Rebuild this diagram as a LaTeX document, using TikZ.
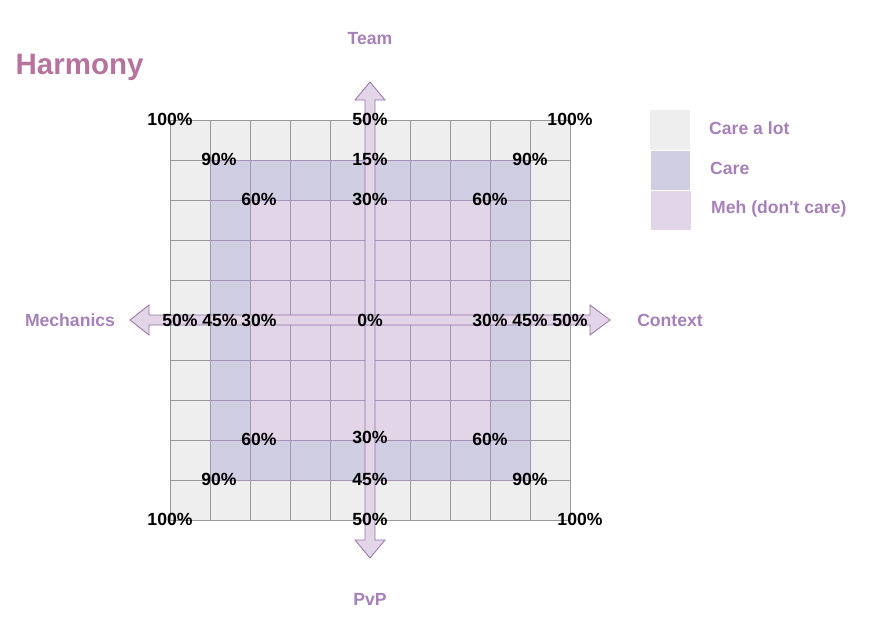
\documentclass[tikz,border=0pt]{standalone}
\usepackage{fontspec}
\setmainfont{Liberation Sans}[Ligatures=TeXOff]
\definecolor{cgray}{HTML}{EEEEEE}
\definecolor{ccare}{HTML}{D0CEE2}
\definecolor{cmeh}{HTML}{E1D5E7}
\definecolor{arrowstroke}{HTML}{9673A6}
\definecolor{labc}{HTML}{A680B8}
\definecolor{titlec}{HTML}{B5739D}
\definecolor{glgray}{HTML}{999999}
\definecolor{glpurple}{HTML}{A393B5}
\begin{document}
\begin{tikzpicture}[x=1pt,y=-1pt,
  pct/.style={font=\fontsize{17.6}{20}\selectfont\bfseries, text=black, inner sep=0pt},
  axlbl/.style={font=\fontsize{17.6}{20}\selectfont\bfseries, text=labc, inner sep=0pt},
  leglbl/.style={font=\fontsize{17.6}{20}\selectfont\bfseries, text=labc, inner sep=0pt, anchor=west},
  gl/.style={draw=glgray, line width=0.8pt},
  glp/.style={draw=glpurple, line width=0.8pt},
  arrowshape/.style={fill=cmeh},
  arrowline/.style={draw=arrowstroke, line width=0.8pt, line join=miter}]
\useasboundingbox (0,0) rectangle (892,642);
% regions
\fill[cgray] (170,120) rectangle (570,520);
\fill[ccare] (210,160) rectangle (530,480);
\fill[cmeh] (250,200) rectangle (490,440);
% grid
\foreach \i in {0,...,10} {
  \draw[gl] ({170+40*\i},120) -- ({170+40*\i},520);
  \draw[gl] (170,{120+40*\i}) -- (570,{120+40*\i});
}
\foreach \i in {1,...,9} {
  \draw[glp] ({170+40*\i},160) -- ({170+40*\i},480);
  \draw[glp] (210,{120+40*\i}) -- (530,{120+40*\i});
}
% arrows
\path[arrowshape] (370,82) -- (385,100) -- (375,100) -- (375,540) -- (385,540) -- (370,558) -- (355,540) -- (365,540) -- (365,100) -- (355,100) -- cycle;
\path[arrowshape] (130,320) -- (149,305) -- (149,315) -- (590,315) -- (590,305) -- (610,320) -- (590,335) -- (590,325) -- (149,325) -- (149,335) -- cycle;
\draw[arrowline] (370,82) -- (385,100) -- (375,100) -- (375,540) -- (385,540) -- (370,558) -- (355,540) -- (365,540) -- (365,100) -- (355,100) -- cycle;
\draw[arrowline] (130,320) -- (149,305) -- (149,315) -- (590,315) -- (590,305) -- (610,320) -- (590,335) -- (590,325) -- (149,325) -- (149,335) -- cycle;
% title and axis labels
\node[font=\fontsize{29.5}{32}\selectfont\bfseries, text=titlec, inner sep=0pt, anchor=west] (title) at (15.5,67) {Harmony};
\node[axlbl] (team) at (370,39) {Team};
\node[axlbl] (pvp) at (370,599) {PvP};
\node[axlbl] (mech) at (70,320) {Mechanics};
\node[axlbl] (ctx) at (670,320) {Context};
% percentages
\node[pct] (p1) at (170,119) {100\%};
\node[pct] (p2) at (370,119) {50\%};
\node[pct] (p3) at (570,119) {100\%};
\node[pct] (p4) at (219,159) {90\%};
\node[pct] (p5) at (370,159) {15\%};
\node[pct] (p6) at (530,159) {90\%};
\node[pct] (p7) at (259,199) {60\%};
\node[pct] (p8) at (370,199) {30\%};
\node[pct] (p9) at (490,199) {60\%};
\node[pct] (p10) at (180,320) {50\%};
\node[pct] (p11) at (220,320) {45\%};
\node[pct] (p12) at (259,320) {30\%};
\node[pct] (p13) at (370,320) {0\%};
\node[pct] (p14) at (490,320) {30\%};
\node[pct] (p15) at (530,320) {45\%};
\node[pct] (p16) at (570,320) {50\%};
\node[pct] (p17) at (259,439) {60\%};
\node[pct] (p18) at (370,437) {30\%};
\node[pct] (p19) at (490,439) {60\%};
\node[pct] (p20) at (219,479) {90\%};
\node[pct] (p21) at (370,479) {45\%};
\node[pct] (p22) at (530,479) {90\%};
\node[pct] (p23) at (170,519) {100\%};
\node[pct] (p24) at (370,519) {50\%};
\node[pct] (p25) at (580,519) {100\%};
% legend
\fill[cgray] (650,110) rectangle (690,149.5);
\fill[ccare] (651,150.5) rectangle (690,189.5);
\fill[cmeh] (651,190.5) rectangle (691,230);
\node[leglbl] (l1) at (709,128) {Care a lot};
\node[leglbl] (l2) at (710,168) {Care};
\node[leglbl] (l3) at (711,209) {Meh (don't care)};
\end{tikzpicture}
\end{document}
